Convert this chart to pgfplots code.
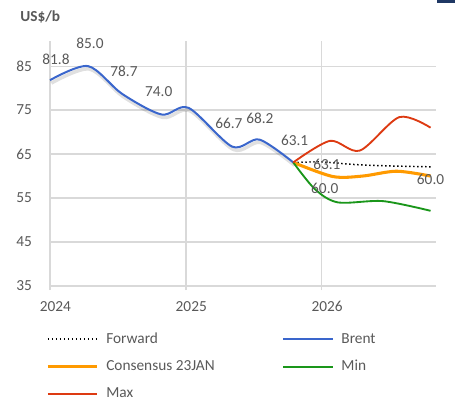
\documentclass[border=0pt]{standalone}
\usepackage{fontspec}
\setmainfont{Carlito}
\usepackage{pgfplots}
\pgfplotsset{compat=1.18}

\definecolor{txt}{HTML}{595959}
\definecolor{gridc}{HTML}{D9D9D9}
\definecolor{brent}{HTML}{3A66CC}
\definecolor{cons}{HTML}{FF9A00}
\definecolor{maxc}{HTML}{DD3A12}
\definecolor{minc}{HTML}{1A961A}
\definecolor{navy}{HTML}{1F3864}

\begin{document}
\begin{tikzpicture}[lbl/.style={font=\fontsize{11.5}{13}\selectfont, text=txt, inner sep=0pt}]
\begin{axis}[
    name=ax, scale only axis,
    width=289.5pt, height=180.75pt,
    xmin=2024, xmax=2026.84, ymin=35, ymax=89.8,
    xtick={2024,2025,2026}, xticklabels={2024,2025,2026},
    ytick={35,45,55,65,75,85},
    /pgf/number format/assume math mode=true,
    grid=major, grid style={draw=gridc, line width=0.9pt},
    axis line style={draw=none},
    tick align=outside, major tick length=3pt,
    xtick style={draw=gridc, line width=0.9pt}, ytick style={draw=none},
    tick label style={font=\fontsize{11.5}{13}\selectfont, text=txt},
    xticklabel style={yshift=-5pt, xshift=4pt},
    yticklabel style={xshift=-7pt},
    clip=false,
    legend columns=2,
    legend cell align=left,
    legend image code/.code={\draw[#1] (0pt,0pt) -- (37pt,0pt);},
    legend style={at={(-0.0104,-0.182)}, anchor=north west, draw=none, fill=none,
        inner sep=0pt, font=\fontsize{11.5}{13}\selectfont, text=txt, row sep=7.2pt,
        /tikz/every odd column/.append style={column sep=3.75pt},
        /tikz/every even column/.append style={column sep=48.75pt}},
]
% shadow under the Brent line
\addplot[forget plot, smooth, black, opacity=0.12, line width=2.6pt, xshift=1pt, yshift=-2.2pt] coordinates {
    (2024.00,81.8) (2024.28,85.0) (2024.53,78.7) (2024.82,74.0)
    (2025.02,75.5) (2025.34,66.7) (2025.54,68.3) (2025.79,63.1)
};
\addplot[smooth, black, line width=1.1pt, dash pattern=on 1.1pt off 1.9pt] coordinates {
    (2025.79,63.1) (2026.00,63.2) (2026.25,62.6) (2026.50,62.3) (2026.80,62.1)
};
\addlegendentry{Forward}
\addplot[smooth, brent, line width=1.5pt] coordinates {
    (2024.00,81.8) (2024.28,85.0) (2024.53,78.7) (2024.82,74.0)
    (2025.02,75.5) (2025.34,66.7) (2025.54,68.3) (2025.79,63.1)
};
\addlegendentry{Brent}
\addplot[smooth, cons, line width=2.3pt] coordinates {
    (2025.79,63.1) (2026.08,59.9) (2026.30,60.0) (2026.55,61.1) (2026.80,60.0)
};
\addlegendentry{Consensus 23JAN}
\addplot[smooth, minc, line width=1.4pt] coordinates {
    (2025.79,63.1) (2025.95,57.0) (2026.12,54.0) (2026.45,54.3) (2026.80,52.1)
};
\addlegendentry{Min}
\addplot[smooth, maxc, line width=1.4pt] coordinates {
    (2025.79,63.1) (2026.06,68.0) (2026.28,65.8) (2026.57,73.4) (2026.80,71.0)
};
\addlegendentry{Max}

\node[lbl] at (axis cs:2024.044,86.6) {81.8};
\node[lbl] at (axis cs:2024.294,90.2) {85.0};
\node[lbl] at (axis cs:2024.544,83.9) {78.7};
\node[lbl] at (axis cs:2024.800,79.1) {74.0};
\node[lbl] at (axis cs:2025.316,72.0) {66.7};
\node[lbl] at (axis cs:2025.544,73.2) {68.2};
\node[lbl] at (axis cs:2025.800,68.2) {63.1};
\node[lbl] at (axis cs:2026.037,62.7) {63.1};
\node[lbl] at (axis cs:2026.022,57.3) {60.0};
\node[lbl] at (axis cs:2026.800,59.3) {60.0};
\node[lbl, anchor=west, font=\fontsize{11.5}{13}\selectfont\bfseries] at (rel axis cs:0,1) [xshift=-22.5pt, yshift=21pt] {US\$/b};
\end{axis}
\fill[navy] ([xshift=290.25pt,yshift=212.25pt]ax.south west) rectangle ([xshift=303.75pt,yshift=214.5pt]ax.south west);
\pgfresetboundingbox
\path[use as bounding box] ([xshift=-37.5pt,yshift=-86.25pt]ax.south west) rectangle ([xshift=303.75pt,yshift=214.5pt]ax.south west);
\end{tikzpicture}
\end{document}
